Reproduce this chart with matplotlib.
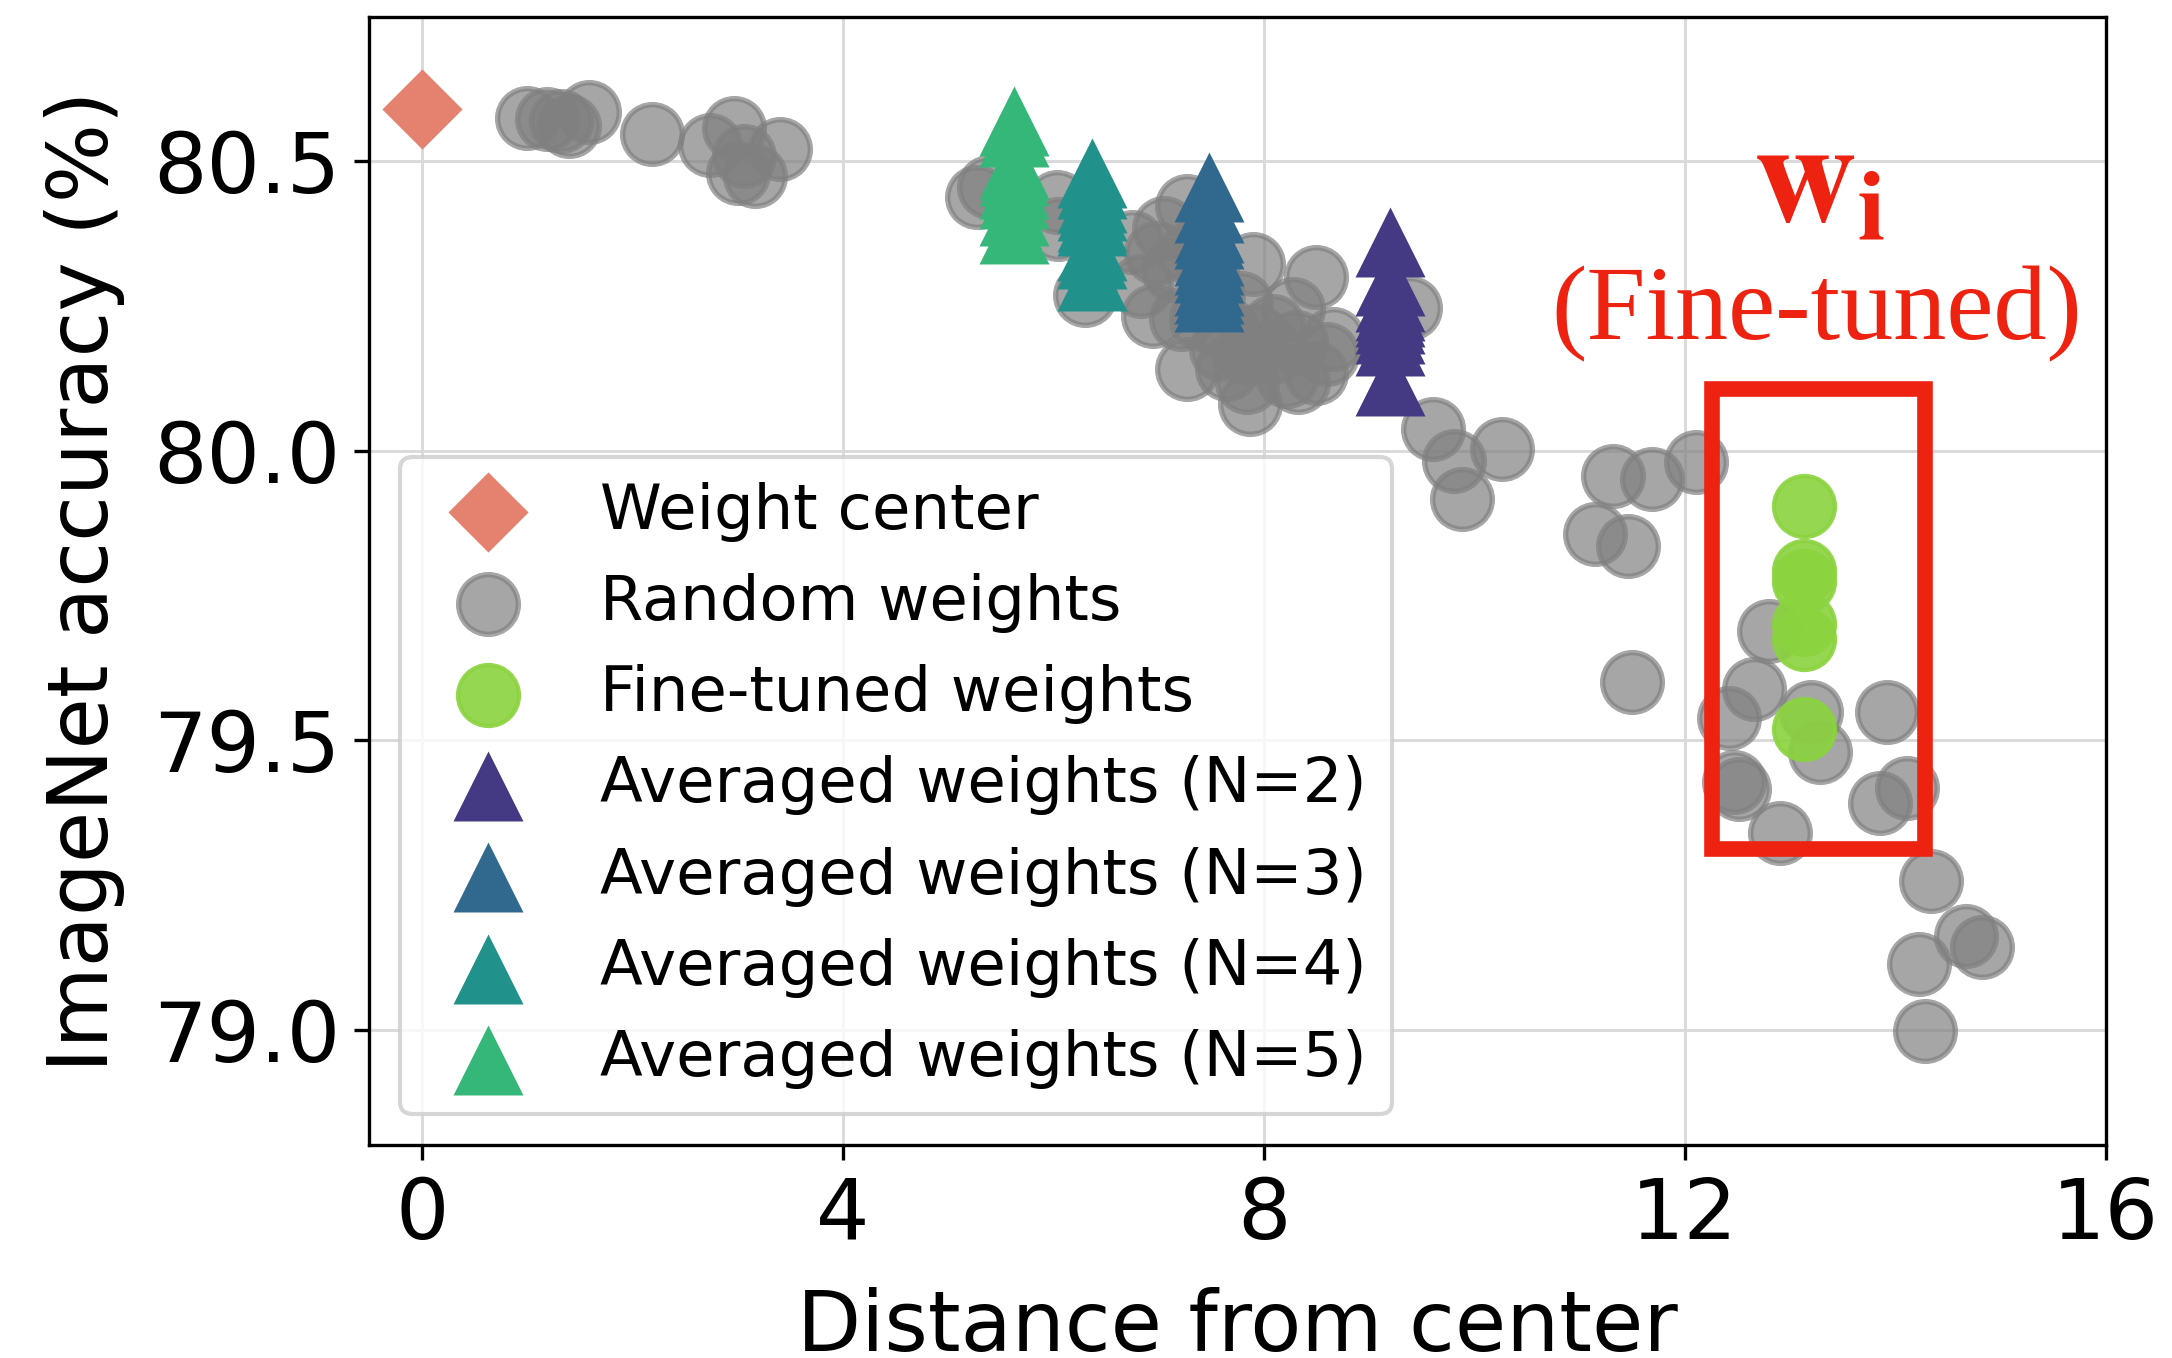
import numpy as np
import matplotlib.pyplot as plt
from matplotlib.patches import Rectangle

# Weight center
center_x = [0.0]
center_y = [80.59]

# Random weights (gray)
random_x = [1.00, 1.19, 1.32, 1.40, 1.59, 2.19, 2.74, 2.97, 3.40, 3.00, 3.17, 3.06,
            5.28, 5.385, 6.04, 6.05, 6.30, 6.75, 7.05, 7.27, 6.95, 7.27, 7.87, 7.84,
            7.65, 8.22, 8.50, 8.60, 8.66, 8.50, 7.90, 8.28, 8.09, 6.98, 7.14, 7.30,
            7.46, 6.83, 7.21, 7.52, 7.40, 7.65, 7.78, 7.94, 7.84, 8.09, 8.31, 7.59,
            8.33, 9.39,
            9.61, 9.81, 10.26, 9.88, 11.32, 11.69, 12.11, 11.15, 11.46, 11.50,
            12.80, 12.66, 12.42, 13.20, 13.29, 13.92, 12.47, 12.52, 12.91, 13.86, 14.11,
            14.34, 14.67, 14.83, 14.23, 14.28]
random_y = [80.574, 80.573, 80.570, 80.561, 80.585, 80.548, 80.529, 80.558, 80.522, 80.480, 80.475, 80.509,
            80.439, 80.455, 80.430, 80.383, 80.269, 80.360, 80.385, 80.423, 80.233, 80.141, 80.080, 80.118,
            80.141, 80.129, 80.135, 80.167, 80.193, 80.300, 80.322, 80.244, 80.216, 80.342, 80.313, 80.342,
            80.313, 80.285, 80.227, 80.267, 80.227, 80.210, 80.256, 80.198, 80.170, 80.170, 80.187, 80.175,
            80.118, 80.247,
            80.037, 79.982, 80.003, 79.916, 79.956, 79.951, 79.980, 79.856, 79.836, 79.600,
            79.689, 79.588, 79.539, 79.548, 79.479, 79.548, 79.427, 79.415, 79.340, 79.392, 79.418,
            79.257, 79.162, 79.142, 79.113, 78.998]

# Fine-tuned weights (green)
finetuned_x = [13.13, 13.13, 13.13, 13.13, 13.13, 13.13]
finetuned_y = [79.905, 79.792, 79.775, 79.700, 79.675, 79.519]

# Averaged weights
avg_n2_x = [9.20] * 9
avg_n2_y = [80.36, 80.293, 80.265, 80.25, 80.24, 80.227, 80.21, 80.19, 80.121]
avg_n3_x = [7.48] * 10
avg_n3_y = [80.455, 80.42, 80.385, 80.375, 80.345, 80.33, 80.315, 80.293, 80.28, 80.266]
avg_n4_x = [6.37] * 9
avg_n4_y = [80.48, 80.46, 80.437, 80.423, 80.403, 80.397, 80.354, 80.339, 80.302]
avg_n5_x = [5.63] * 8
avg_n5_y = [80.57, 80.55, 80.495, 80.483, 80.46, 80.443, 80.414, 80.383]

avg_labels = ['Averaged weights (N=2)', 'Averaged weights (N=3)',
              'Averaged weights (N=4)', 'Averaged weights (N=5)']

plt.rcParams['font.family'] = 'DejaVu Sans'
plt.rcParams['mathtext.fontset'] = 'stix'

fig = plt.figure(figsize=(7.24, 4.5267), dpi=300)
ax = fig.add_axes([0.170, 0.1565, 0.7994, 0.8313])

ax.grid(True, color='#dadada', linewidth=0.7, zorder=0)
ax.set_axisbelow(True)

ax.scatter(center_x, center_y, marker='D', s=185, color='#e4826f',
           linewidths=0, zorder=4, label='Weight center')
ax.scatter(random_x, random_y, marker='o', s=205, color='gray', edgecolors='gray',
           alpha=0.7, linewidths=1.3, zorder=2, label='Random weights')
ax.scatter(finetuned_x, finetuned_y, marker='o', s=215, color='#8bd33f',
           edgecolors='#8bd33f', alpha=0.9, linewidths=1.0, zorder=3,
           label='Fine-tuned weights')

avg_colors = plt.cm.viridis([1 / 6, 2 / 6, 3 / 6, 4 / 6])
avg_sets = [(avg_n2_x, avg_n2_y), (avg_n3_x, avg_n3_y),
            (avg_n4_x, avg_n4_y), (avg_n5_x, avg_n5_y)]
for (xs, ys), col, lab in zip(avg_sets, avg_colors, avg_labels):
    ax.scatter(xs, ys, marker='^', s=282, color=col, linewidths=0,
               zorder=3, label=lab)

# highlight box around fine-tuned weights
ax.add_patch(Rectangle((12.26, 79.312), 14.28 - 12.26, 80.106 - 79.312,
                       fill=False, edgecolor='#ee2211', linewidth=3.75, zorder=5))
ax.text(13.28, 80.396, r'$\mathbf{w}_{\mathbf{i}}$', color='#ee2211',
        fontsize=34, ha='center', va='baseline', zorder=6)
ax.text(13.26, 80.193, '(Fine-tuned)', color='#ee2211', fontsize=25.5,
        family='Liberation Serif', ha='center', va='baseline', zorder=6)

ax.set_xlim(-0.5, 16)
ax.set_ylim(78.8, 80.75)
ax.set_xticks([0, 4, 8, 12, 16])
ax.set_yticks([79.0, 79.5, 80.0, 80.5])
ax.set_yticklabels(['79.0', '79.5', '80.0', '80.5'])
ax.tick_params(labelsize=20.2)
ax.set_xlabel('Distance from center', fontsize=20, labelpad=7.5)
ax.set_ylabel('ImageNet accuracy (%)', fontsize=20, labelpad=6.7)

ax.legend(loc='lower left', fontsize=15, labelspacing=0.5, framealpha=0.8)

fig.savefig('out.png', dpi=300)
